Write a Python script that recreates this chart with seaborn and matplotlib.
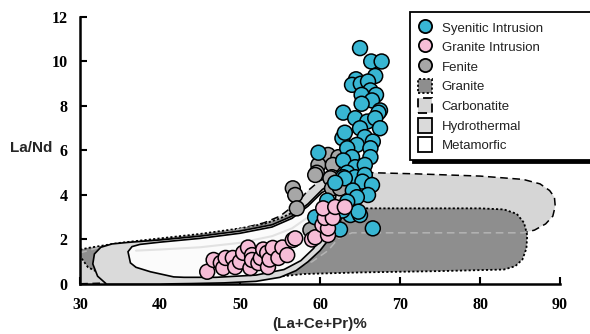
import numpy as np
import pandas as pd
import seaborn as sns
import matplotlib.pyplot as plt
from matplotlib.lines import Line2D
from matplotlib.patches import Patch

# --- sample points (La+Ce+Pr % , La/Nd) ---
syenite_x = [65.0, 66.4, 67.7, 66.9, 64.5, 64.0, 65.1, 66.0, 66.3, 65.2, 67.0, 66.5, 65.2,
             67.5, 62.9, 64.4, 65.9, 67.3, 66.9, 67.5, 65.0, 62.8, 63.1, 65.6, 66.6, 64.6,
             66.3, 59.8, 63.4, 64.0, 66.3, 62.9, 64.4, 65.6, 63.4, 62.9, 64.4, 65.6, 63.1,
             65.3, 66.5, 64.1, 66.0, 64.6, 60.9, 63.4, 59.4, 63.8, 65.0, 62.5, 66.6, 62.8,
             64.8, 61.9]
syenite_y = [10.6, 10.0, 10.0, 9.35, 9.2, 8.95, 9.0, 9.1, 8.7, 8.5, 8.5, 8.25, 8.1,
             7.8, 7.7, 7.45, 7.3, 7.7, 7.45, 7.0, 7.0, 6.55, 6.8, 6.6, 6.4, 6.25,
             6.1, 5.9, 6.1, 5.7, 5.7, 5.55, 5.25, 5.35, 5.0, 4.8, 4.8, 4.9, 4.75,
             4.6, 4.45, 4.2, 4.0, 3.9, 3.75, 3.7, 3.0, 3.1, 3.1, 2.45, 2.5, 3.3,
             3.25, 4.55]

granite_x = [45.9, 46.7, 47.6, 47.9, 48.2, 49.1, 49.4, 50.0, 50.4, 51.0, 51.5, 51.3, 51.5,
             52.3, 52.6, 52.9, 53.4, 53.5, 53.7, 54.1, 54.8, 55.3, 55.9, 56.6, 56.9, 59.0,
             59.4, 61.0, 60.3, 61.0, 60.6, 61.6, 60.4, 61.9, 63.1]
granite_y = [0.55, 1.08, 0.95, 0.72, 1.17, 1.17, 0.76, 1.0, 1.4, 1.64, 1.3, 0.72, 1.08,
             0.94, 1.17, 1.55, 1.4, 0.76, 1.1, 1.62, 1.17, 1.64, 1.3, 1.98, 2.05, 2.0,
             2.1, 2.2, 2.65, 2.5, 2.97, 2.97, 3.4, 3.46, 3.46]

fenite_x = [56.6, 56.9, 57.1, 61.0, 62.3, 59.8, 61.6, 59.6, 61.5, 59.4, 61.3, 61.5, 62.5, 58.8]
fenite_y = [4.3, 4.0, 3.4, 5.8, 5.7, 5.35, 5.35, 5.0, 4.8, 4.9, 4.75, 4.3, 4.3, 2.43]

# --- fields (outlines in data units) ---
carb_x = [29.0, 29.0, 33.0, 40.0, 47.0, 53.0, 55.0, 57.0, 58.5, 60.0, 62.0, 64.0, 66.6, 72.0,
          80.0, 85.4, 87.5, 88.7, 89.3, 89.4, 89.1, 88.2, 86.8, 85.4, 80.0, 70.0, 64.0, 62.3,
          61.0, 59.0, 56.0, 52.0, 46.0, 40.0, 34.0]
carb_y = [0.0, 1.3, 1.7, 1.95, 2.2, 2.75, 3.05, 3.6, 4.2, 4.65, 4.9, 5.0, 5.0, 4.95,
          4.85, 4.7, 4.5, 4.2, 3.9, 3.5, 3.05, 2.7, 2.42, 2.3, 2.3, 2.3, 2.3, 2.05,
          1.5, 1.0, 0.65, 0.4, 0.22, 0.1, 0.05]

gran_x = [29.5, 31.0, 35.0, 40.0, 45.0, 50.0, 53.0, 55.0, 56.5, 58.0, 60.0, 70.0, 80.0, 83.0,
          84.6, 85.5, 85.9, 85.8, 85.3, 84.4, 83.0, 75.0, 65.0, 58.0, 54.0, 50.0, 45.0, 40.0,
          36.0, 33.0, 31.0]
gran_y = [1.5, 1.62, 1.85, 2.05, 2.25, 2.5, 2.7, 2.95, 3.2, 3.35, 3.4, 3.4, 3.4, 3.35,
          3.15, 2.75, 2.2, 1.6, 1.1, 0.8, 0.65, 0.58, 0.52, 0.45, 0.3, 0.17, 0.08, 0.05,
          0.12, 0.4, 0.75]

hydro_x = [33.3, 32.2, 31.6, 31.8, 32.6, 34.0, 36.0, 40.0, 45.0, 50.0, 54.0, 56.5, 58.5, 60.3,
           61.8, 63.0, 63.6, 63.3, 62.5, 61.3, 60.0, 58.5, 57.0, 55.0, 52.0, 48.0, 44.0, 40.0,
           36.0]
hydro_y = [0.0, 0.35, 0.9, 1.35, 1.65, 1.8, 1.87, 1.98, 2.15, 2.38, 2.66, 3.05, 3.6, 4.25,
           4.6, 4.6, 4.2, 3.5, 2.8, 2.1, 1.5, 1.0, 0.6, 0.3, 0.12, 0.05, 0.02, 0.0,
           0.0]

meta_x = [36.3, 36.0, 36.5, 37.5, 40.0, 45.0, 50.0, 54.0, 56.5, 58.5, 60.2, 61.2, 62.0, 61.5,
          60.5, 59.2, 57.6, 55.5, 52.0, 47.0, 43.0, 41.7, 38.8, 37.0]
meta_y = [0.95, 1.45, 1.68, 1.78, 1.88, 2.05, 2.28, 2.56, 2.95, 3.5, 4.1, 4.3, 4.0, 3.0,
          2.3, 1.6, 1.05, 0.65, 0.4, 0.3, 0.3, 0.32, 0.55, 0.75]

meta_inner_x = [37.0, 40.0, 45.0, 50.0, 54.0, 56.5, 58.5]
meta_inner_y = [1.5, 1.55, 1.65, 1.85, 2.15, 2.5, 3.0]

x_ticks = [30, 40, 50, 60, 70, 80, 90]
y_ticks = [0, 2, 4, 6, 8, 10, 12]

colors = {"Syenitic Intrusion": "#38b6d3", "Granite Intrusion": "#f6bdd7", "Fenite": "#a7a7a7"}

df = pd.concat([
    pd.DataFrame({"x": fenite_x, "y": fenite_y, "group": "Fenite"}),
    pd.DataFrame({"x": syenite_x, "y": syenite_y, "group": "Syenitic Intrusion"}),
    pd.DataFrame({"x": granite_x, "y": granite_y, "group": "Granite Intrusion"}),
], ignore_index=True)

sns.set_style("ticks")
plt.rcParams["font.family"] = ["Liberation Sans", "DejaVu Sans"]

fig = plt.figure(figsize=(5.9, 3.34), dpi=100)
ax = fig.add_axes([0.1356, 0.1497, 0.8136, 0.7995])

# fields
ax.fill(carb_x, carb_y, facecolor="#d6d6d6", edgecolor="black", linestyle=(0, (5, 3)),
        linewidth=1.1, zorder=1)
gran_patch = ax.fill(gran_x, gran_y, facecolor="#8e8e8e", edgecolor="black",
                     linestyle=(0, (1.2, 1.2)), linewidth=1.3, zorder=2)[0]
hidden, = ax.plot(carb_x, carb_y, color="#b4b4b4", linestyle=(0, (5, 3)), linewidth=1.1, zorder=2.5)
hidden.set_clip_path(gran_patch)
ax.fill(hydro_x, hydro_y, facecolor="#dadada", edgecolor="black", linewidth=1.2, zorder=3)
ax.fill(meta_x, meta_y, facecolor="#fbfbfb", edgecolor="black", linewidth=1.2, zorder=3.5)
ax.plot(meta_inner_x, meta_inner_y, color="#e2e2e2", linewidth=1.5, zorder=3.6)

sns.scatterplot(data=df, x="x", y="y", hue="group", palette=colors, s=115,
                edgecolor="black", linewidth=1.1, legend=False, ax=ax, zorder=5, clip_on=False)

ax.set_xlim(30, 90)
ax.set_ylim(0, 12)
ax.set_xticks(x_ticks)
ax.set_yticks(y_ticks)
sns.despine(ax=ax)
for s in ["left", "bottom"]:
    ax.spines[s].set_linewidth(1.8)
    ax.spines[s].set_color("black")
ax.tick_params(direction="in", length=5, width=1.5, pad=9, colors="black")
for lab in ax.get_xticklabels() + ax.get_yticklabels():
    lab.set_fontfamily("Liberation Serif")
    lab.set_fontweight("bold")
    lab.set_fontsize(11.5)

ax.set_xlabel("(La+Ce+Pr)%", fontsize=11, fontweight="bold")
ax.xaxis.set_label_coords(0.5, -0.125)
ax.set_ylabel("La/Nd", fontsize=11, fontweight="bold", rotation=0, ha="center", va="center")
ax.yaxis.set_label_coords(-0.102, 0.51)

handles = [
    Line2D([], [], marker="o", linestyle="none", markersize=9.5, markerfacecolor=colors["Syenitic Intrusion"],
           markeredgecolor="black", markeredgewidth=1.3),
    Line2D([], [], marker="o", linestyle="none", markersize=9.5, markerfacecolor=colors["Granite Intrusion"],
           markeredgecolor="black", markeredgewidth=1.3),
    Line2D([], [], marker="o", linestyle="none", markersize=9.5, markerfacecolor=colors["Fenite"],
           markeredgecolor="black", markeredgewidth=1.3),
    Patch(facecolor="#8e8e8e", edgecolor="black", linestyle=(0, (1.2, 1.2)), linewidth=1.3),
    Patch(facecolor="#d6d6d6", edgecolor="black", linestyle=(0, (5, 3)), linewidth=1.3),
    Patch(facecolor="#dadada", edgecolor="black", linewidth=1.3),
    Patch(facecolor="white", edgecolor="black", linewidth=1.3),
]
labels = ["Syenitic Intrusion", "Granite Intrusion", "Fenite", "Granite", "Carbonatite",
          "Hydrothermal", "Metamorfic"]
leg = fig.legend(handles, labels, loc="upper left", bbox_to_anchor=(0.695, 0.0, 0.36, 0.964),
                 bbox_transform=fig.transFigure, mode="expand", borderaxespad=0,
                 fontsize=9.5, handlelength=1.1, handleheight=1.35, handletextpad=0.7,
                 labelspacing=0.36, borderpad=0.6, fancybox=False,
                 shadow={"color": "black", "alpha": 1})
leg.get_frame().set_edgecolor("black")
leg.get_frame().set_linewidth(1.3)
for t in leg.get_texts():
    t.set_color("#222222")

fig.savefig("out.png", dpi=100)
